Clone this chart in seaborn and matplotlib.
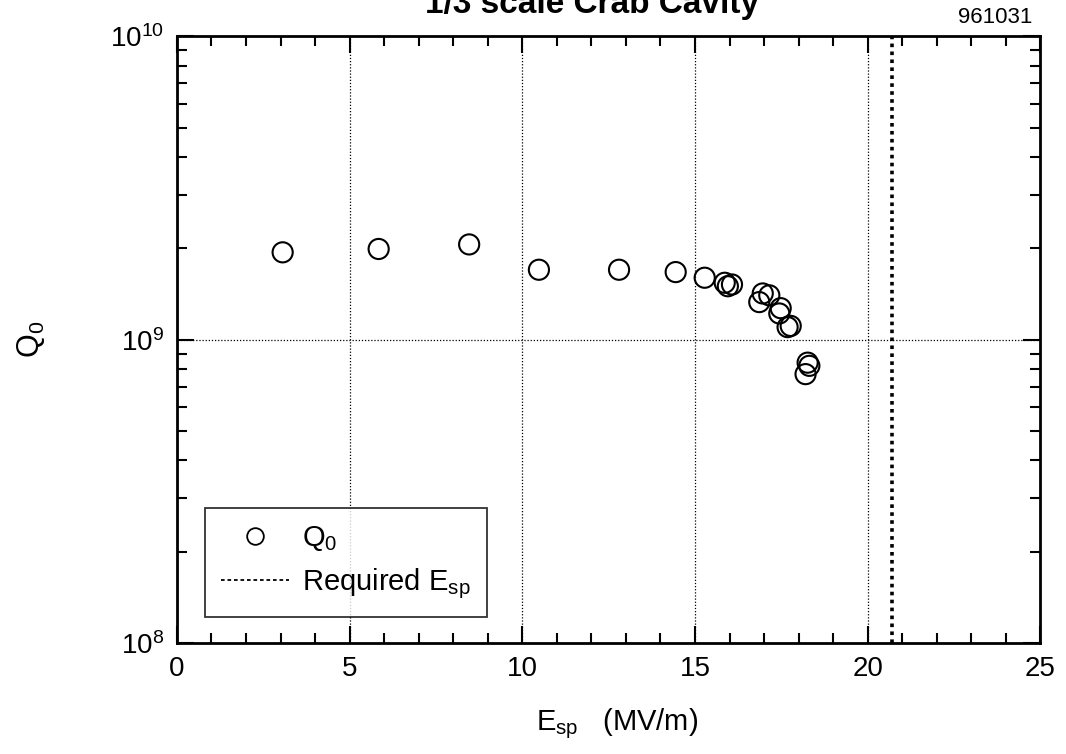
import numpy as np
import pandas as pd
import matplotlib
matplotlib.use("Agg")
import matplotlib.pyplot as plt
from matplotlib.lines import Line2D
from matplotlib.ticker import MultipleLocator, LogLocator, NullFormatter
import seaborn as sns

## data
e_sp = [3.06, 5.84, 8.46, 10.48, 12.80, 14.44, 15.28,
        15.86, 15.95, 16.07, 16.86, 16.96, 17.15,
        17.44, 17.48, 17.68, 17.77, 18.26, 18.20, 18.31]
q0 = [1.94e9, 1.99e9, 2.06e9, 1.70e9, 1.70e9, 1.67e9, 1.60e9,
      1.54e9, 1.50e9, 1.52e9, 1.33e9, 1.42e9, 1.40e9,
      1.22e9, 1.27e9, 1.10e9, 1.11e9, 0.84e9, 0.77e9, 0.82e9]
required_esp = 20.7
x_ticks = [0, 5, 10, 15, 20, 25]
grid_x = [5, 10, 15, 20]
grid_y = [1e9]

df = pd.DataFrame({"E_sp": e_sp, "Q0": q0})

sns.set_theme(style="ticks")
plt.rcParams['font.family'] = ['Liberation Sans', 'DejaVu Sans']
plt.rcParams['mathtext.fontset'] = 'custom'
plt.rcParams['mathtext.rm'] = 'Liberation Sans'
plt.rcParams['mathtext.it'] = 'Liberation Sans'
plt.rcParams['mathtext.default'] = 'rm'
plt.rcParams['text.color'] = 'black'
plt.rcParams['axes.labelcolor'] = 'black'

fig = plt.figure(figsize=(10.66, 7.54), dpi=100)
ax = fig.add_axes([0.166, 0.147, 0.810, 0.805])

# dotted grid lines
for gx in grid_x:
    ax.axvline(gx, color="black", ls=(0, (1, 1.5)), lw=0.9, zorder=1)
for gy in grid_y:
    ax.axhline(gy, color="black", ls=(0, (1, 1.5)), lw=0.9, zorder=1)

sns.scatterplot(data=df, x="E_sp", y="Q0", ax=ax, s=210, marker="o",
                facecolors="none", edgecolor="black", linewidth=1.5,
                zorder=3, legend=False)
ax.axvline(required_esp, color="black", ls=(0, (1, 1.2)), lw=2.6, zorder=2)

ax.set_yscale("log")
ax.set_xlim(0, 25)
ax.set_ylim(1e8, 1e10)
ax.set_xticks(x_ticks)
ax.xaxis.set_minor_locator(MultipleLocator(1))
ax.yaxis.set_major_locator(LogLocator(base=10, numticks=5))
ax.yaxis.set_minor_locator(LogLocator(base=10, subs=np.arange(2, 10), numticks=20))
ax.yaxis.set_minor_formatter(NullFormatter())

ax.tick_params(which="both", direction="in", top=True, right=True,
               labelsize=20, width=1.5, colors="black")
ax.tick_params(which="major", length=12, pad=9)
ax.tick_params(which="minor", length=7)
for s in ax.spines.values():
    s.set_linewidth(2)
    s.set_color("black")

ax.set_xlabel(r"$\mathrm{E_{sp}}$   (MV/m)", fontsize=21)
ax.set_ylabel(r"$\mathrm{Q_0}$", fontsize=22)
ax.xaxis.set_label_coords(0.51, -0.105)
ax.yaxis.set_label_coords(-0.15, 0.5)

handles = [
    Line2D([], [], ls="none", marker="o", markersize=12, markerfacecolor="none",
           markeredgecolor="black", markeredgewidth=1.3),
    Line2D([], [], color="black", ls=(0, (2, 1.6)), lw=1.3),
]
labels = [r"$\mathrm{Q_0}$", r"Required $\mathrm{E_{sp}}$"]
leg = ax.legend(handles, labels, loc="lower left", bbox_to_anchor=(0.032, 0.043),
                borderaxespad=0, fontsize=21, frameon=True, fancybox=False,
                handlelength=2.35, handletextpad=0.45, borderpad=0.55,
                labelspacing=0.45, edgecolor="black", labelcolor="black")
leg.get_frame().set_linewidth(1.3)

fig.text(0.555, 0.983, "1/3 scale Crab Cavity", fontsize=24, weight="bold",
         ha="center", va="baseline")
fig.text(0.968, 0.97, "961031", fontsize=16, ha="right", va="baseline")

fig.savefig("out.png", dpi=100)
